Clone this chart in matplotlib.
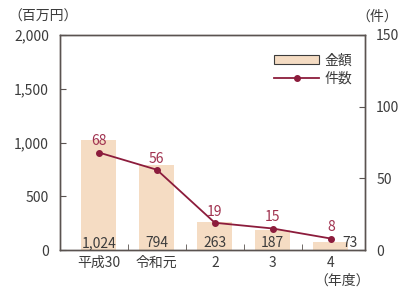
import matplotlib
matplotlib.use("Agg")
import matplotlib.pyplot as plt
from matplotlib.patches import Patch
from matplotlib.lines import Line2D
import numpy as np

plt.rcParams['font.family'] = ['Noto Sans CJK JP', 'DejaVu Sans']

# データ
categories = ["平成30", "令和元", "2", "3", "4"]
amounts = [1024, 794, 263, 187, 73]     # 金額(百万円)
counts = [68, 56, 19, 15, 8]            # 件数

bar_color = "#f5dcc3"
line_color = "#8c1c3c"
label_red = "#a0324f"
text_color = "#3c3c3c"
spine_color = "#5a5350"
fs = 10

fig = plt.figure(figsize=(4, 2.88), dpi=100)
ax = fig.add_axes([60 / 400, 38 / 288, 305 / 400, 215 / 288])
ax2 = ax.twinx()

x = np.arange(len(categories))
ax.bar(x, amounts, width=0.6, color=bar_color, zorder=1)
ax2.plot(x, counts, color=line_color, marker="o", ms=4, lw=1.3, zorder=3)

# 金額ラベル
for i, v in enumerate(amounts):
    dx = 14 if i == len(amounts) - 1 else 0
    ax.annotate(f"{v:,}", (x[i], 0), xytext=(dx, 0), textcoords="offset points",
                ha="center", va="bottom", fontsize=fs, color=text_color)

# 件数ラベル
for i, c in enumerate(counts):
    ax2.annotate(str(c), (x[i], c), xytext=(0, 3), textcoords="offset points",
                 ha="center", va="bottom", fontsize=fs, color=label_red)

ax.set_xlim(-0.67, 4.59)
ax.set_ylim(0, 2000)
ax2.set_ylim(0, 150)
ax.set_yticks([0, 500, 1000, 1500, 2000])
ax.set_yticklabels(["0", "500", "1,000", "1,500", "2,000"])
ax2.set_yticks([0, 50, 100, 150])

ax.set_xticks(x)
ax.set_xticklabels(categories)
ax.set_xticks(x[:-1] + 0.5, minor=True)
ax.tick_params(axis="x", which="major", length=0, labelsize=fs, colors=text_color, pad=4)
ax.tick_params(axis="x", which="minor", direction="in", length=4, color=spine_color)
ax.tick_params(axis="y", direction="in", length=4, color=spine_color, labelsize=fs,
               labelcolor=text_color, pad=8)
ax2.tick_params(axis="y", direction="in", length=4, color=spine_color, labelsize=fs,
                labelcolor=text_color, pad=8)

for a in (ax, ax2):
    for s in a.spines.values():
        s.set_color(spine_color)
        s.set_linewidth(1.0)

fig.text(8 / 400, 1 - 17 / 288, "（百万円）", fontsize=fs, color=text_color, va="center", ha="left")
fig.text(398 / 400, 1 - 17 / 288, "（件）", fontsize=fs, color=text_color, va="center", ha="right")
fig.text(370 / 400, 1 - 281 / 288, "（年度）", fontsize=fs, color=text_color, va="center", ha="right")

handles = [Patch(facecolor=bar_color, edgecolor="#3c3c3c", linewidth=0.8),
           Line2D([], [], color=line_color, marker="o", ms=4, lw=1.3)]
leg = ax2.legend(handles, ["金額", "件数"], loc="upper right", bbox_to_anchor=(0.99, 0.96),
                 frameon=False, fontsize=fs, handlelength=3.2, handleheight=0.6,
                 labelspacing=0.3, handletextpad=0.4, borderaxespad=0.3)
for t in leg.get_texts():
    t.set_color(text_color)

fig.savefig("out.png", dpi=100)
